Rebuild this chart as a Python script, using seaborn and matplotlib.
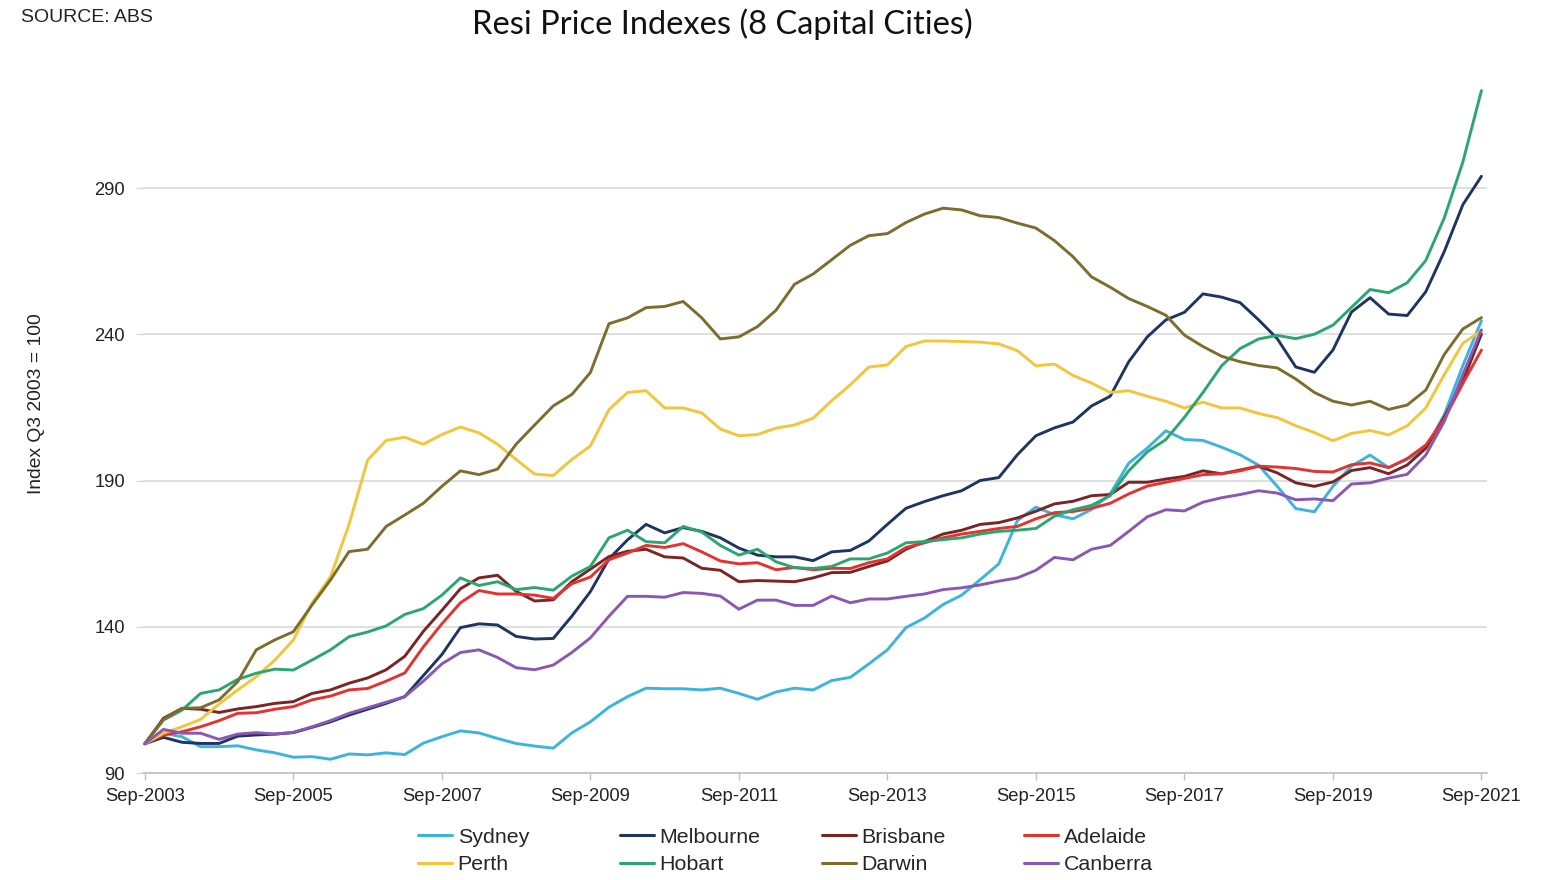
import numpy as np
import pandas as pd
import matplotlib
matplotlib.use("Agg")
import matplotlib.pyplot as plt
from matplotlib.lines import Line2D
import seaborn as sns

# ---------------- data (quarterly, Sep-2003 .. Sep-2021, Q3 2003 = 100) ----------------
quarters = list(pd.date_range(start="2003-09-01", periods=73, freq="3MS").strftime("%b-%Y"))

sydney = [100.0, 103.6, 102.4, 99.0, 99.0, 99.3, 97.9, 96.9, 95.4, 95.6, 94.7, 96.5, 96.2,
          96.9, 96.3, 100.2, 102.4, 104.4, 103.7, 101.8, 100.1, 99.2, 98.5, 103.7, 107.5,
          112.5, 116.1, 119.0, 118.8, 118.8, 118.4, 119.0, 117.2, 115.2, 117.7, 119.0, 118.4,
          121.6, 122.7, 127.3, 132.1, 139.7, 143.0, 147.6, 150.8, 156.1, 161.5, 176.3, 180.9,
          178.3, 176.9, 180.1, 185.4, 195.9, 201.1, 207.0, 204.0, 203.7, 201.4, 198.8, 195.2,
          188.0, 180.4, 179.3, 188.0, 194.9, 198.7, 194.4, 197.2, 201.0, 212.5, 229.3, 244.6]
melbourne = [100.0, 102.2, 100.5, 100.1, 100.1, 102.6, 103.0, 103.3, 103.8, 105.6, 107.5, 109.8, 111.8,
             113.8, 116.1, 123.3, 130.5, 139.7, 141.0, 140.6, 136.7, 135.8, 136.0, 143.6, 152.0,
             163.2, 169.7, 175.0, 172.1, 173.9, 172.6, 170.4, 166.9, 164.5, 163.9, 163.9, 162.6,
             165.6, 166.1, 169.3, 175.0, 180.5, 182.8, 184.8, 186.5, 190.0, 191.0, 198.8, 205.3,
             208.0, 210.0, 215.5, 218.8, 230.6, 239.1, 244.9, 247.5, 253.8, 252.7, 250.8, 244.9,
             238.5, 228.8, 227.0, 234.6, 247.6, 252.5, 246.9, 246.4, 254.5, 268.3, 284.3, 294.0]
brisbane = [100.0, 108.7, 112.1, 111.8, 110.7, 111.9, 112.7, 113.8, 114.4, 117.2, 118.4, 120.7, 122.5,
            125.3, 129.9, 138.4, 145.6, 153.0, 156.7, 157.6, 152.1, 148.8, 149.2, 155.4, 159.7,
            164.0, 165.8, 166.5, 163.9, 163.5, 160.0, 159.3, 155.4, 155.8, 155.6, 155.4, 156.7,
            158.5, 158.6, 160.6, 162.5, 166.5, 169.1, 171.7, 173.0, 175.0, 175.6, 177.2, 179.5,
            182.0, 182.9, 184.8, 185.2, 189.4, 189.4, 190.5, 191.4, 193.3, 192.3, 193.6, 194.9,
            192.6, 189.2, 188.0, 189.5, 193.4, 194.4, 192.3, 195.3, 201.0, 211.7, 224.0, 240.0]
adelaide = [100.0, 103.0, 104.1, 105.8, 107.9, 110.4, 110.6, 111.8, 112.7, 115.0, 116.3, 118.4, 118.9,
            121.4, 124.2, 133.1, 141.0, 148.2, 152.4, 151.2, 151.2, 150.8, 149.7, 154.7, 157.0,
            162.9, 165.2, 167.8, 167.1, 168.4, 165.6, 162.5, 161.5, 161.9, 159.5, 160.3, 159.5,
            160.0, 159.9, 161.9, 163.2, 167.1, 168.7, 170.4, 171.7, 172.6, 173.6, 174.3, 176.9,
            179.0, 179.4, 180.5, 182.2, 185.4, 188.1, 189.4, 190.7, 192.0, 192.3, 193.3, 194.9,
            194.6, 194.1, 193.1, 192.9, 195.4, 196.0, 194.4, 197.5, 202.1, 211.0, 223.2, 234.6]
perth = [100.0, 103.6, 105.8, 108.3, 113.6, 118.4, 122.9, 128.6, 135.5, 148.0, 157.1, 175.0, 197.0,
         203.7, 204.8, 202.4, 205.7, 208.3, 206.3, 202.4, 197.2, 192.2, 191.7, 197.2, 201.8,
         214.2, 220.1, 220.7, 214.8, 214.8, 213.1, 207.6, 205.3, 205.7, 207.9, 209.0, 211.3,
         217.3, 222.7, 228.8, 229.5, 235.8, 237.7, 237.7, 237.5, 237.3, 236.7, 234.4, 229.2,
         229.8, 225.9, 223.3, 220.1, 220.7, 218.8, 217.1, 214.8, 216.8, 214.8, 214.8, 212.9,
         211.5, 208.7, 206.4, 203.6, 206.1, 207.1, 205.6, 208.7, 214.8, 226.2, 236.9, 241.2]
hobart = [100.0, 108.1, 111.5, 117.2, 118.4, 122.0, 124.1, 125.5, 125.2, 128.6, 132.1, 136.6, 138.2,
          140.3, 144.2, 146.2, 150.8, 156.7, 154.1, 155.4, 152.7, 153.4, 152.5, 157.3, 160.6,
          170.4, 173.0, 169.1, 168.7, 174.3, 172.4, 167.8, 164.5, 166.5, 162.2, 160.2, 159.9,
          160.6, 163.2, 163.2, 165.2, 168.7, 169.1, 169.8, 170.4, 171.7, 172.6, 173.0, 173.6,
          177.8, 180.0, 181.5, 184.8, 193.3, 199.8, 204.0, 211.6, 220.1, 229.2, 235.1, 238.4,
          239.6, 238.5, 240.0, 243.1, 249.2, 255.3, 254.2, 257.6, 265.2, 279.8, 298.9, 323.3]
darwin = [100.0, 108.3, 112.1, 112.3, 115.0, 121.2, 132.1, 135.5, 138.3, 147.4, 156.0, 165.7, 166.5,
          174.3, 178.2, 182.2, 188.0, 193.3, 192.0, 193.9, 202.4, 209.0, 215.5, 219.4, 226.9,
          243.6, 245.6, 249.1, 249.5, 251.2, 245.6, 238.4, 239.1, 242.6, 248.2, 257.1, 260.6,
          265.5, 270.4, 273.7, 274.4, 278.2, 281.1, 283.1, 282.5, 280.5, 279.9, 278.0, 276.3,
          272.0, 266.5, 259.6, 256.1, 252.2, 249.5, 246.5, 239.7, 235.8, 232.5, 230.6, 229.3,
          228.5, 224.7, 220.1, 217.1, 215.8, 217.1, 214.3, 215.8, 220.9, 233.1, 241.8, 245.7]
canberra = [100.0, 104.9, 103.6, 103.6, 101.5, 103.3, 103.8, 103.3, 103.9, 105.8, 107.9, 110.4, 112.3,
            114.2, 116.1, 121.4, 127.3, 131.2, 132.1, 129.5, 126.0, 125.3, 126.9, 131.2, 136.2,
            143.6, 150.4, 150.4, 150.1, 151.7, 151.4, 150.5, 146.0, 149.1, 149.1, 147.3, 147.3,
            150.5, 148.2, 149.5, 149.5, 150.4, 151.2, 152.7, 153.3, 154.3, 155.6, 156.7, 159.3,
            163.7, 162.9, 166.5, 167.8, 172.6, 177.6, 180.0, 179.6, 182.6, 184.1, 185.2, 186.5,
            185.7, 183.4, 183.7, 183.1, 188.8, 189.2, 190.8, 192.1, 198.7, 210.2, 226.2, 241.5]

cities = ["Sydney", "Melbourne", "Brisbane", "Adelaide", "Perth", "Hobart", "Darwin", "Canberra"]
series = [sydney, melbourne, brisbane, adelaide, perth, hobart, darwin, canberra]
colors = ["#3BB4DF", "#1F3561", "#7A2424", "#E4322F", "#F3C53A", "#2BA672", "#7D6D2C", "#8A58B2"]
y_ticks = [90, 140, 190, 240, 290]

# ---------------- build table ----------------
frames = []
for name, vals in zip(cities, series):
    frames.append(pd.DataFrame({"q": np.arange(len(vals)), "quarter": quarters,
                                "city": name, "value": vals}))
df = pd.concat(frames, ignore_index=True)

# ---------------- figure ----------------
sns.set_theme(style="white")
plt.rcParams["font.family"] = ["Liberation Sans", "DejaVu Sans"]

W, H = 1551, 880
fig = plt.figure(figsize=(W / 100, H / 100), dpi=100)
ax = fig.add_axes([143 / W, 1 - 773 / H, (1487 - 143) / W, (773 - 71) / H])

sns.lineplot(data=df, x="q", y="value", hue="city", hue_order=cities,
             palette=dict(zip(cities, colors)), linewidth=2.1, legend=False,
             estimator=None, ax=ax)

ax.set_xlim(-0.1, 72.3)
ax.set_ylim(90, 330)
ax.set_yticks(y_ticks)
ax.set_yticklabels([str(t) for t in y_ticks])
xt = list(range(0, len(quarters), 8))
ax.set_xticks(xt)
ax.set_xticklabels([quarters[i] for i in xt])
ax.set_xlabel("")
ax.set_ylabel("")

ax.grid(axis="y", color="#D9D9D9", linewidth=1.2)
ax.grid(axis="x", visible=False)
for s in ["top", "right", "left"]:
    ax.spines[s].set_visible(False)
ax.spines["bottom"].set_color("#BFBFBF")
ax.spines["bottom"].set_linewidth(1.2)
ax.tick_params(axis="x", bottom=True, length=5, width=1, color="#BFBFBF",
               labelsize=13.2, labelcolor="#222222", pad=5.5)
ax.tick_params(axis="y", left=True, length=5, width=1, color="#D9D9D9",
               labelsize=13.2, labelcolor="#222222", pad=8)

# ---------------- texts ----------------
fig.text(0.4655, 0.972, "Resi Price Indexes (8 Capital Cities)", ha="center", va="center",
         fontsize=23.5, family=["Lato", "DejaVu Sans"], color="#111111")
fig.text(21 / W, 1 - 17 / H, "SOURCE: ABS", ha="left", va="center", fontsize=14,
         color="#222222")
fig.text(37 / W, 1 - 404 / H, "Index Q3 2003 = 100", ha="center", va="center",
         rotation=90, fontsize=13.9, color="#222222")

# ---------------- legend: 4 columns, 2 rows (row-major like the source) ----------------
col_x = [418, 620, 822, 1024]
for j in range(4):
    hs, ls = [], []
    for k in (j, j + 4):
        hs.append(Line2D([0], [0], color=colors[k], linewidth=2.2))
        ls.append(cities[k])
    fig.legend(hs, ls, loc="center left", bbox_to_anchor=(col_x[j] / W, 1 - 851 / H),
               frameon=False, fontsize=15.4, handlelength=1.6, handletextpad=0.25,
               labelspacing=0.42, borderpad=0, borderaxespad=0)

fig.savefig("out.png", dpi=100)
